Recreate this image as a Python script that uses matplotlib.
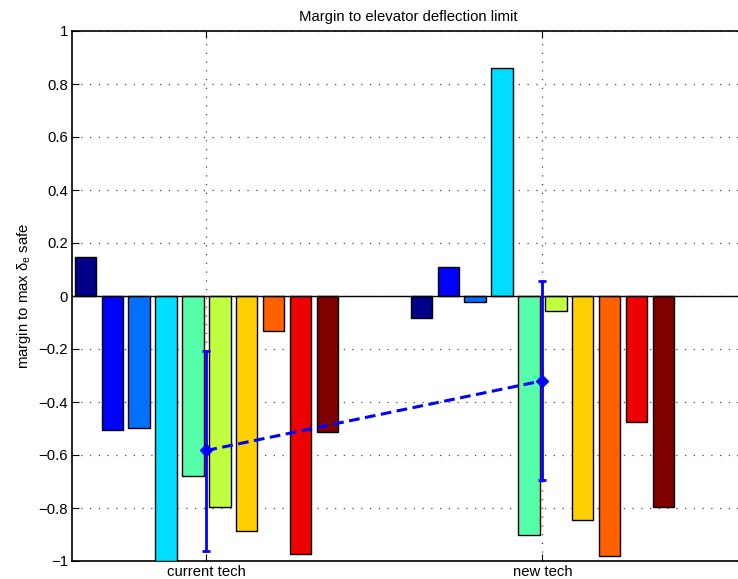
import numpy as np
import matplotlib
matplotlib.use("Agg")
import matplotlib.pyplot as plt

plt.rcParams['font.family'] = ['Liberation Sans', 'DejaVu Sans']
plt.rcParams['mathtext.fontset'] = 'custom'
plt.rcParams['mathtext.rm'] = 'Liberation Sans'
plt.rcParams['mathtext.it'] = 'Liberation Sans'

# data
groups = ["current tech", "new tech"]
current_tech = [0.149, -0.506, -0.497, -1.0, -0.680, -0.796, -0.888, -0.132, -0.972, -0.515]
new_tech = [-0.083, 0.108, -0.023, 0.861, -0.902, -0.055, -0.847, -0.980, -0.476, -0.797]
mean_vals = [-0.583, -0.320]
err_lo = [0.379, 0.373]
err_hi = [0.376, 0.376]

colors = ['#000088', '#0000FF', '#0070FF', '#00DDFF', '#55FFAA',
          '#C0FF40', '#FFD000', '#FF6000', '#EE0000', '#800000']

fs = 10.7
fig = plt.figure(figsize=(7.38, 5.79), dpi=100)
ax = fig.add_axes([72/738, 18/579, 672/738, 530/579])

n = len(current_tech)
slot = 0.08
data = np.array([current_tech, new_tech])
for i in range(n):
    xs = np.arange(1, 3) + (i - (n - 1) / 2) * slot
    ax.bar(xs, data[:, i], width=0.8 * slot, color=colors[i],
           edgecolor='black', linewidth=1, zorder=3)

ax.axhline(0, color='black', linewidth=1, zorder=4)

ax.errorbar([1, 2], mean_vals, yerr=[err_lo, err_hi], color='blue',
            linestyle='--', linewidth=2.2, marker='D', markersize=6,
            capsize=3, capthick=2, elinewidth=2, zorder=5, dashes=(3.5, 1.8))

ax.set_xlim(0.6, 2.6)
ax.set_ylim(-1, 1)
ax.set_xticks([1, 2])
ax.set_xticklabels(groups, fontsize=fs)
yt = np.round(np.arange(-1, 1.01, 0.2), 1)
ax.set_yticks(yt)
ax.set_yticklabels([('%g' % (v + 0.0)).replace('-', '\u2212') if abs(v) > 1e-9 else '0'
                    for v in yt], fontsize=fs)
ax.tick_params(direction='in', length=5, top=True, right=True, pad=3)
ax.grid(True, linestyle=(0, (1, 6)), color='#444444', linewidth=0.9, zorder=0)
ax.set_axisbelow(True)
for s in ax.spines.values():
    s.set_linewidth(1.2)

ax.set_title("Margin to elevator deflection limit", fontsize=fs, pad=7)
ax.set_ylabel(r"margin to max $\delta_e$ safe", fontsize=fs, labelpad=4)

fig.savefig("out.png", dpi=100)
